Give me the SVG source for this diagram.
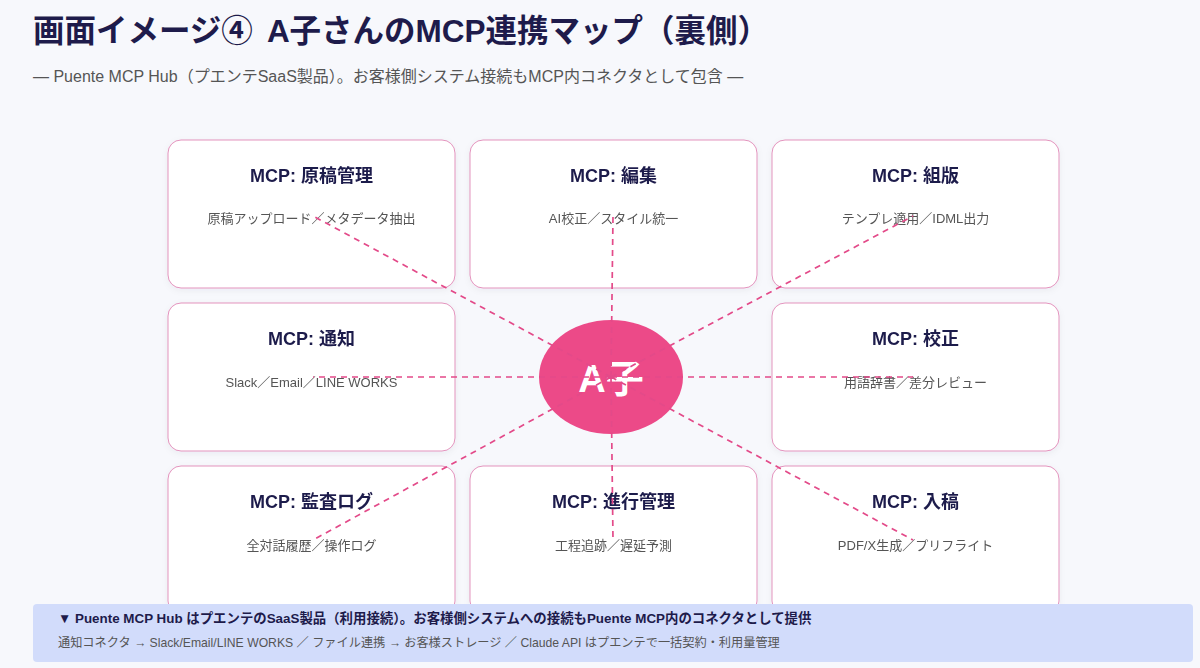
<svg xmlns="http://www.w3.org/2000/svg" width="1200" height="668" viewBox="0 0 1200 668">
<defs>
<style>
.t{font-family:"Liberation Sans","Noto Sans CJK JP",sans-serif}
.title{font-size:31.5px;font-weight:bold;fill:#1e1b4b}
.sub{font-size:16px;fill:#555}
.card{fill:#fff;stroke:#e393bd;stroke-width:1}
.ct{font-size:18px;font-weight:bold;fill:#1e1b4b;text-anchor:middle}
.cd{font-size:13px;fill:#555;text-anchor:middle}
.ln{stroke:#e34a89;stroke-width:1.7;stroke-dasharray:6 5;fill:none}
.b1{font-size:13.4px;font-weight:bold;fill:#1e1b4b}
.b2{font-size:12.2px;fill:#555}
</style>
<filter id="sh" x="-10%" y="-10%" width="120%" height="130%">
<feDropShadow dx="0" dy="2" stdDeviation="3" flood-color="#1e1b4b" flood-opacity="0.05"/>
</filter>
</defs>
<rect width="1200" height="668" fill="#f7f8fc"/>
<text class="t title" x="33" y="42">画面イメージ④<tspan dx="14">A子さんのMCP連携マップ（裏側）</tspan></text>
<text class="t sub" x="33" y="82">— Puente MCP Hub（プエンテSaaS製品）。お客様側システム接続もMCP内コネクタとして包含 —</text>

<g id="n1" filter="url(#sh)"><rect class="card" x="168" y="140" width="287" height="148" rx="13"/><text class="t ct" x="311.5" y="182">MCP: 原稿管理</text><text class="t cd" x="311.5" y="223">原稿アップロード／メタデータ抽出</text></g>
<g id="n2" filter="url(#sh)"><rect class="card" x="470" y="140" width="287" height="148" rx="13"/><text class="t ct" x="613.5" y="182">MCP: 編集</text><text class="t cd" x="613.5" y="223">AI校正／スタイル統一</text></g>
<g id="n3" filter="url(#sh)"><rect class="card" x="772" y="140" width="287" height="148" rx="13"/><text class="t ct" x="915.5" y="182">MCP: 組版</text><text class="t cd" x="915.5" y="223">テンプレ適用／IDML出力</text></g>
<g id="n4" filter="url(#sh)"><rect class="card" x="168" y="303" width="287" height="148" rx="13"/><text class="t ct" x="311.5" y="345">MCP: 通知</text><text class="t cd" x="311.5" y="387">Slack／Email／LINE WORKS</text></g>
<g id="n5" filter="url(#sh)"><rect class="card" x="772" y="303" width="287" height="148" rx="13"/><text class="t ct" x="915.5" y="345">MCP: 校正</text><text class="t cd" x="915.5" y="387">用語辞書／差分レビュー</text></g>
<g id="n6" filter="url(#sh)"><rect class="card" x="168" y="466" width="287" height="148" rx="13"/><text class="t ct" x="311.5" y="508">MCP: 監査ログ</text><text class="t cd" x="311.5" y="550">全対話履歴／操作ログ</text></g>
<g id="n7" filter="url(#sh)"><rect class="card" x="470" y="466" width="287" height="148" rx="13"/><text class="t ct" x="613.5" y="508">MCP: 進行管理</text><text class="t cd" x="613.5" y="550">工程追跡／遅延予測</text></g>
<g id="n8" filter="url(#sh)"><rect class="card" x="772" y="466" width="287" height="148" rx="13"/><text class="t ct" x="915.5" y="508">MCP: 入稿</text><text class="t cd" x="915.5" y="550">PDF/X生成／プリフライト</text></g>

<g id="center"><ellipse cx="611" cy="377" rx="72" ry="57" fill="#ec4a88"/><text class="t" x="611" y="392" text-anchor="middle" font-size="38" font-weight="bold" fill="#fff">A子</text></g>

<g id="connectors">
<path class="ln" d="M611 377L313 216M611 377L613 216M611 377L913 216M611 377L313 377M611 377L913 377M611 377L313 540M611 377L613 540M611 377L913 540"/>
</g>

<g id="banner">
<rect x="33" y="604" width="1160" height="58" rx="4" fill="#d2dcfb"/>
<text class="t b1" x="58" y="623">▼ Puente MCP Hub はプエンテのSaaS製品（利用接続）。お客様側システムへの接続もPuente MCP内のコネクタとして提供</text>
<text class="t b2" x="58" y="647">通知コネクタ → Slack/Email/LINE WORKS ／ ファイル連携 → お客様ストレージ ／ Claude API はプエンテで一括契約・利用量管理</text>
</g>
</svg>
